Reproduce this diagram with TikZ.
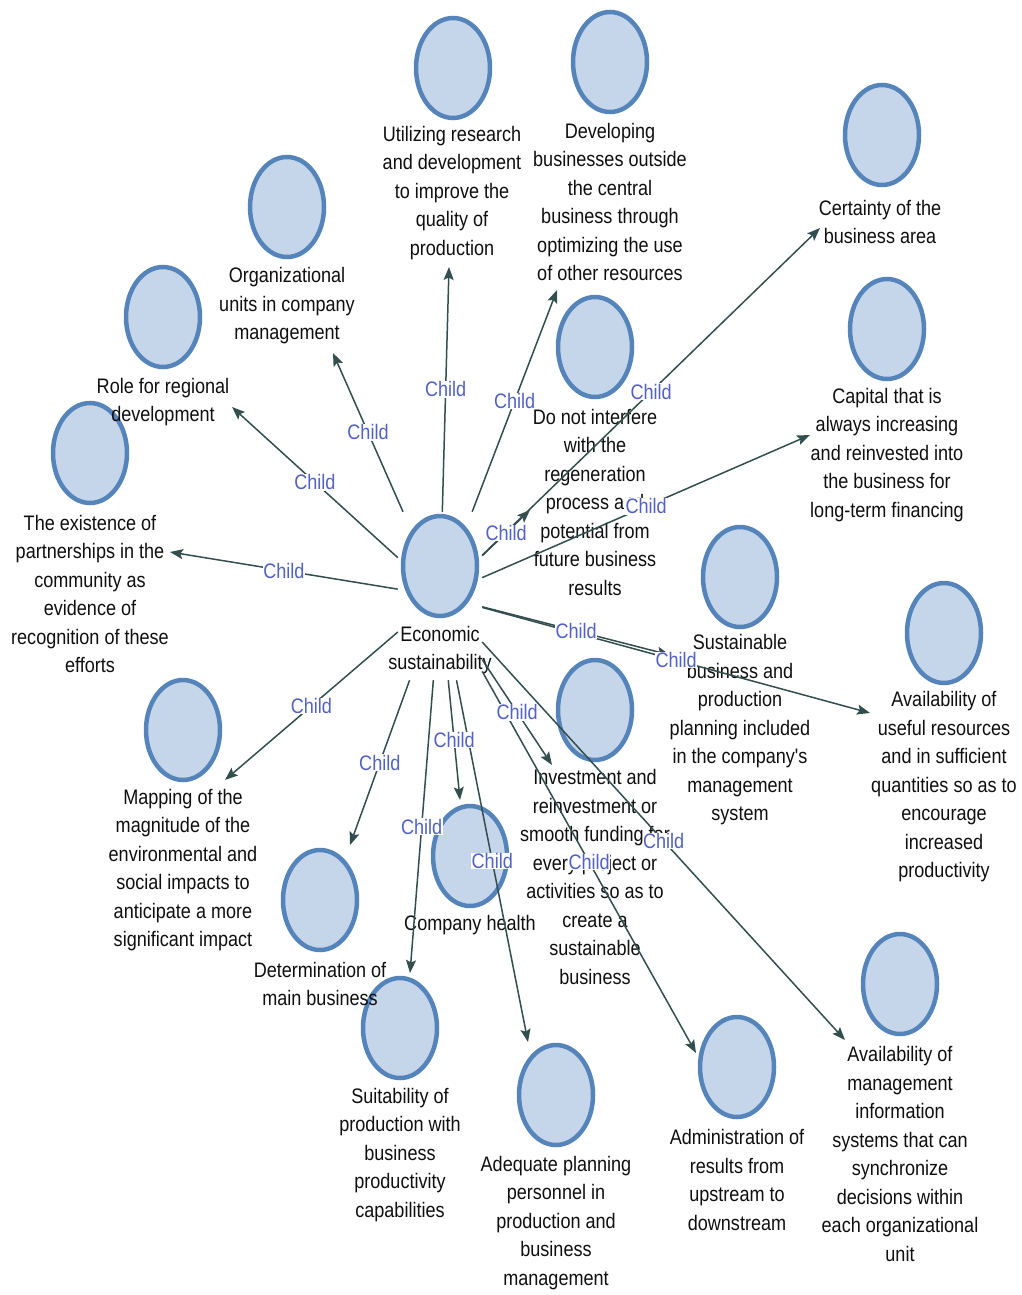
\documentclass[tikz,border=0pt]{standalone}
\usepackage{fontspec}
\newfontfamily\narrowsf{Liberation Sans}[FakeStretch=0.86]
\usetikzlibrary{arrows.meta,shapes.geometric}
\definecolor{bubblefill}{RGB}{197,214,234}
\definecolor{bubbleedge}{RGB}{84,132,186}
\definecolor{linkgrey}{RGB}{50,78,78}
\definecolor{childblue}{RGB}{82,98,196}
\definecolor{inkblack}{RGB}{15,15,15}
\newcommand{\lbsize}{\fontsize{21}{28.5}\selectfont}

\begin{document}
\begin{tikzpicture}[x=1pt,y=-1pt,
    bubble/.style={ellipse,draw=bubbleedge,fill=bubblefill,line width=4.5pt,
      inner sep=0pt,minimum width=74pt,minimum height=100pt},
    txt/.style={align=center,inner sep=0pt,text=inkblack,font=\narrowsf\lbsize},
    link/.style={draw=linkgrey,line width=1.5pt,
      -{Stealth[length=13pt,width=10pt,inset=2.5pt]}},
    childtag/.style={fill=white,text=childblue,inner sep=0.5pt,font=\narrowsf\lbsize}]
  \useasboundingbox (0,0) rectangle (1022,1295);
  % Bubbles
  \foreach \n/\cx/\cy in {eco/440/566,util/453/68,dev/610/62,cert/882/135,
      org/287/207,role/163/317,exist/90/453,donot/595/347,cap/887/329,
      sust/740/577,avail/944/633,map/183/730,invest/595/710,health/470/856,
      determ/320/900,suit/400/1028,adeq/556/1095,admin/737/1067,mis/900/984}{
    \node[bubble] (c\n) at (\cx,\cy) {};
  }
  % Texts
  \node[txt] (leco) at (440,650) {Economic\\sustainability};
  \node[txt] (lutil) at (452,193) {Utilizing research\\and development\\to improve the\\quality of\\production};
  \node[txt] (ldev) at (610,202) {Developing\\businesses outside\\the central\\business through\\optimizing the use\\of other resources};
  \node[txt] (lcert) at (880,222) {Certainty of the\\business area};
  \node[txt] (lorg) at (287,306) {Organizational\\units in company\\management};
  \node[txt] (lrole) at (163,402) {Role for regional\\development};
  \node[txt] (lexist) at (90,594) {The existence of\\partnerships in the\\community as\\evidence of\\recognition of these\\efforts};
  \node[txt] (ldonot) at (595,502) {Do not interfere\\with the\\regeneration\\process and\\potential from\\future business\\results};
  \node[txt] (lcap) at (887,455) {Capital that is\\always increasing\\and reinvested into\\the business for\\long-term financing};
  \node[txt] (lsust) at (740,730) {Sustainable\\business and\\production\\planning included\\in the company's\\management\\system};
  \node[txt] (lavail) at (944,787) {Availability of\\useful resources\\and in sufficient\\quantities so as to\\encourage\\increased\\productivity};
  \node[txt] (lmap) at (183,870) {Mapping of the\\magnitude of the\\environmental and\\social impacts to\\anticipate a more\\significant impact};
  \node[txt] (linvest) at (595,877) {Investment and\\reinvestment or\\smooth funding for\\every project or\\activities so as to\\create a\\sustainable\\business};
  \node[txt] (lhealth) at (470,925) {Company health};
  \node[txt] (ldeterm) at (320,984) {Determination of\\main business};
  \node[txt] (lsuit) at (400,1155) {Suitability of\\production with\\business\\productivity\\capabilities};
  \node[txt] (ladeq) at (556,1223) {Adequate planning\\personnel in\\production and\\business\\management};
  \node[txt] (ladmin) at (737,1180) {Administration of\\results from\\upstream to\\downstream};
  \node[txt] (lmis) at (900,1154) {Availability of\\management\\information\\systems that can\\synchronize\\decisions within\\each organizational\\unit};
  % Box round the root bubble and its text
  \node[minimum width=84pt,minimum height=168pt,inner sep=0pt] (eco) at (440,596) {};
  % Links
  \foreach \n/\dx/\dy in {org/46/146,util/-4/199,dev/-53/228,cert/-62/93,
      role/69/90,exist/80/99,donot/-65/163,cap/-77/106,sust/-70/78,
      avail/-74/80,map/42/50,invest/-43/55,health/-10/-56,determ/30/-55,
      suit/10/-55,adeq/-28/-53,admin/-41/-14,mis/-55/56}{
    \draw[link] (eco) -- ([shift={(\dx,\dy)}]c\n.center);
  }
  \foreach \n/\dx/\dy in {org/46/146,util/-4/199,dev/-53/228,cert/-62/93,
      role/69/90,exist/80/99,donot/-65/163,cap/-77/106,sust/-70/78,
      avail/-74/80,map/42/50,invest/-43/55,health/-10/-56,determ/30/-55,
      suit/10/-55,adeq/-28/-53,admin/-41/-14,mis/-55/56}{
    \path (eco) -- ([shift={(\dx,\dy)}]c\n.center) node[midway,childtag] {Child};
  }
\end{tikzpicture}
\end{document}
